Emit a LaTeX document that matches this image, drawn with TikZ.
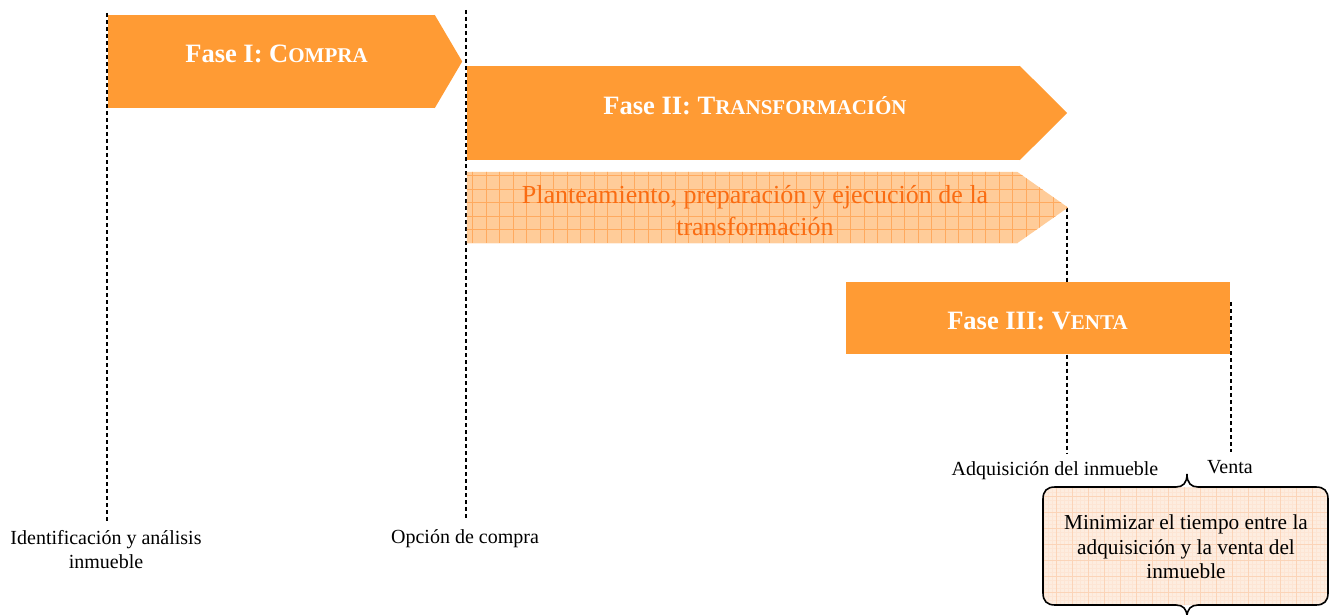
\documentclass[tikz,border=0pt]{standalone}
\usepackage{fontspec}
\setmainfont{Liberation Serif}
\usepackage{tikz}
\usetikzlibrary{calc,positioning}
\definecolor{naranja}{RGB}{255,155,52}
\definecolor{naranjaClaro}{RGB}{255,204,153}
\definecolor{naranjaReja}{RGB}{255,170,95}
\definecolor{naranjaTexto}{RGB}{250,108,18}
\definecolor{melocoton}{RGB}{253,237,224}
\definecolor{melocotonReja}{RGB}{251,212,184}
\definecolor{melocotonFina}{RGB}{253,229,212}
\tikzstyle{fase}=[rectangle, fill=naranja, inner sep=0pt]
\tikzstyle{titulo}=[text=white, font=\bfseries\fontsize{26.5}{32}\selectfont, anchor=base]
\tikzstyle{guia}=[black, line width=1.4pt, dash pattern=on 4pt off 3pt, shorten >=6pt]
\tikzstyle{etiqueta}=[font=\fontsize{20}{24}\selectfont, align=center, inner sep=2pt]
\tikzstyle{llave}=[black, line width=1.6pt]
\newcommand{\versalita}[1]{{\fontsize{21}{24}\selectfont #1}}

\begin{document}
\begin{tikzpicture}[x=1pt,y=-1pt]
	\useasboundingbox (0,0) rectangle (1330,615);

	%%% labels on the time line
	\node[etiqueta] (lblIdent) at (106,550) {Identificación y análisis\\inmueble};
	\node[etiqueta,anchor=base] (lblOpcion) at (465,543) {Opción de compra};
	\node[etiqueta,anchor=base] (lblAdq) at (1055,475) {Adquisición del inmueble};
	\node[etiqueta,anchor=base] (lblVenta) at (1230,473) {Venta};

	% guide lines
	\coordinate (iniIdent) at (107,13);
	\coordinate (iniOpcion) at (466,10);
	\coordinate (iniVenta) at (1231,302);
	\coordinate (puntaPlan) at (1068,207.5);

	\draw[guia] (iniIdent) -- (iniIdent |- lblIdent.north);
	\draw[guia] (iniOpcion) -- (iniOpcion |- lblOpcion.north);
	\draw[guia] ($(puntaPlan)+(-1,0)$) -- ($(puntaPlan |- lblAdq.north)+(-1,0)$);
	\draw[guia] (iniVenta) -- (iniVenta |- lblVenta.north);

	%%% first row - compra
	\node[fase,minimum width=327.5pt,minimum height=93pt] (faseI) at (271.25,61.5) {};
	\fill[naranja] ($(faseI.north east)+(-0.5,0)$) -- ($(faseI.east)+(27,0)$) -- ($(faseI.south east)+(-0.5,0)$) -- cycle;
	\node[titulo] (tFaseI) at (276.5,62.5) {Fase I: C\versalita{OMPRA}};

	%%% second row - transformacion
	\node[fase,minimum width=553pt,minimum height=94pt] (faseII) at (743.5,113) {};
	\fill[naranja] ($(faseII.north east)+(-0.5,0)$) -- ($(faseII.east)+(47,0)$) -- ($(faseII.south east)+(-0.5,0)$) -- cycle;
	\node[titulo] (tFaseII) at (755,114) {Fase II: T\versalita{RANSFORMACIÓN}};

	%%% third row - planteamiento, with grid
	\node[rectangle,inner sep=0pt,minimum width=550pt,minimum height=71pt] (plan) at (742,207.5) {};
	\begin{scope}
		\clip (plan.north west) -- (plan.north east) -- (puntaPlan) -- (plan.south east) -- (plan.south west) -- cycle;
		\fill[naranjaClaro] (460,165) rectangle (1075,250);
		\draw[naranjaReja,line width=0.6pt,step=13.5pt] (460,165) grid (1075,250);
	\end{scope}
	\node[text=naranjaTexto,font=\fontsize{26}{32}\selectfont,align=center] (tPlan) at (755,211) {Planteamiento, preparación y ejecución de la\\transformación};

	%%% fourth row - venta
	\node[fase,minimum width=384pt,minimum height=72pt] (faseIII) at (1038,318) {};
	\node[titulo] (tFaseIII) at (1037.5,329) {Fase III: V\versalita{ENTA}};

	%%% objective between the two braces
	\begin{scope}
		\clip[rounded corners=12pt] (1043,487) rectangle (1328,605);
		\fill[melocoton] (1040,480) rectangle (1330,610);
		\draw[melocotonFina,line width=0.25pt,step=4pt] (1040,480) grid (1330,610);
		\draw[melocotonReja,line width=0.5pt,step=16pt] (1040,480) grid (1330,610);
	\end{scope}
	\draw[llave] (1043,546) -- (1043,499) .. controls (1043,491) and (1047,487) .. (1055,487)
		-- (1176,487) .. controls (1183,487) and (1187,483) .. (1187,474)
		.. controls (1187,483) and (1191,487) .. (1198,487)
		-- (1316,487) .. controls (1324,487) and (1328,491) .. (1328,499)
		-- (1328,593) .. controls (1328,601) and (1324,605) .. (1316,605)
		-- (1198,605) .. controls (1191,605) and (1187,609) .. (1187,617)
		.. controls (1187,609) and (1183,605) .. (1176,605)
		-- (1055,605) .. controls (1047,605) and (1043,601) .. (1043,593) -- cycle;
	\node[font=\fontsize{21.3}{24.5}\selectfont,align=center] (objetivo) at (1186,547) {Minimizar el tiempo entre la\\adquisición y la venta del\\inmueble};
\end{tikzpicture}
\end{document}
